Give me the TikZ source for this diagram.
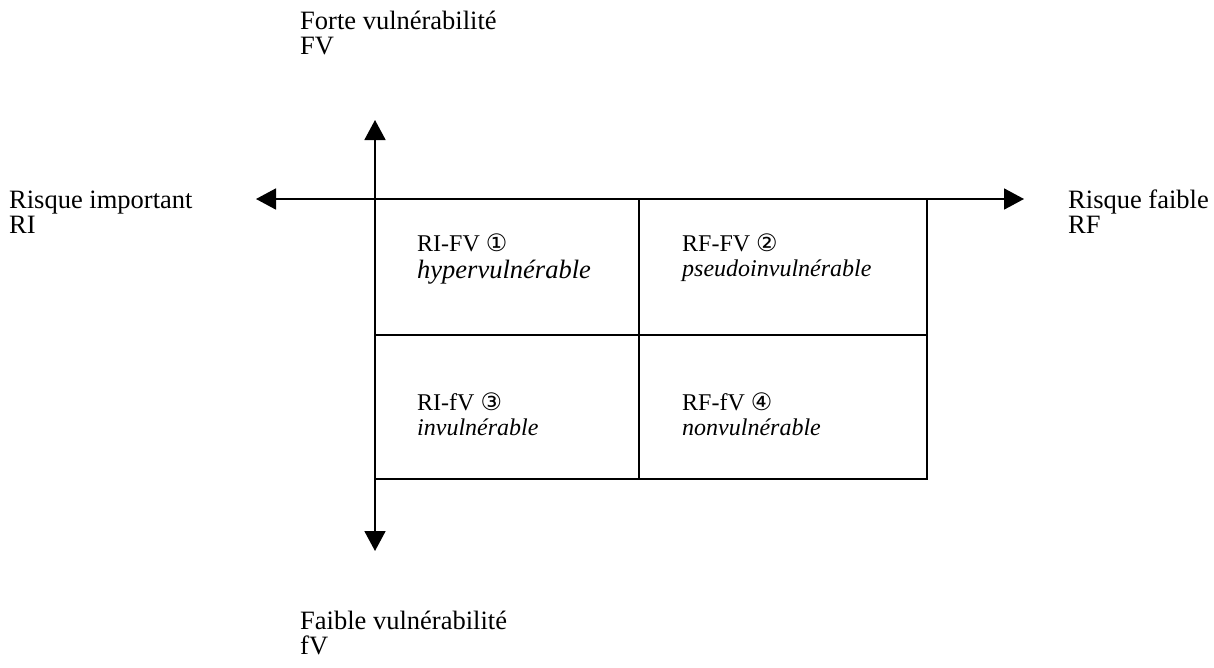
\documentclass[tikz,border=0pt]{standalone}
\usepackage{fontspec}
\setmainfont{Liberation Serif}
\newfontfamily\symfont{DejaVu Sans}
\usetikzlibrary{arrows.meta}
\newcommand{\twolines}[3]{\vtop{\baselineskip=#1pt\hbox{#2}\hbox{#3}}}
\newcommand{\circnum}[1]{{\symfont\fontsize{24}{24}\selectfont #1}}
\newcommand{\bigit}[1]{{\itshape\fontsize{26.5}{27}\selectfont #1}}
\tikzset{
  axis/.style={line width=1.8pt, {Triangle[length=20pt,width=21pt]}-{Triangle[length=20pt,width=21pt]}},
  grid line/.style={line width=1.6pt},
  outer label/.style={anchor=base west, inner sep=0pt, font=\fontsize{26.5}{25}\selectfont},
  cell label/.style={anchor=base west, inner sep=0pt, font=\fontsize{24}{27}\selectfont},
}
\begin{document}
\begin{tikzpicture}[x=1pt,y=-1pt]
\useasboundingbox (0,0) rectangle (1214,667);
% axes end points
\coordinate (vtop) at (375,120);
\coordinate (vbot) at (375,551);
\coordinate (hleft) at (256,199);
\coordinate (hright) at (1024,199);
\draw[axis] (vbot) -- (vtop);
\draw[axis] (hleft) -- (hright);
% grid
\coordinate (gtl) at (375,199);
\coordinate (gbr) at (927,479);
\coordinate (mtop) at (639,199);
\coordinate (mbot) at (639,479);
\coordinate (mleft) at (375,335);
\coordinate (mright) at (927,335);
\draw[grid line] (gtl) rectangle (gbr);
\draw[grid line] (mtop) -- (mbot);
\draw[grid line] (mleft) -- (mright);
% outer labels
\node[outer label] (fv) at (300,29) {\twolines{25}{Forte vulnérabilité}{FV}};
\node[outer label] (ri) at (9,208) {\twolines{25}{Risque important}{RI}};
\node[outer label] (rf) at (1068,208) {\twolines{25}{Risque faible}{RF}};
\node[outer label] (fvl) at (300,629) {\twolines{25}{Faible vulnérabilité}{fV}};
% cell labels
\node[cell label] (c1) at (417,251) {\twolines{27}{RI-FV \circnum{①}}{\bigit{hypervulnérable}}};
\node[cell label] (c2) at (682,251) {\twolines{25}{RF-FV \circnum{②}}{\itshape pseudoinvulnérable}};
\node[cell label] (c3) at (417,410) {\twolines{25}{RI-fV \circnum{③}}{\itshape invulnérable}};
\node[cell label] (c4) at (682,410) {\twolines{25}{RF-fV \circnum{④}}{\itshape nonvulnérable}};
\end{tikzpicture}
\end{document}
